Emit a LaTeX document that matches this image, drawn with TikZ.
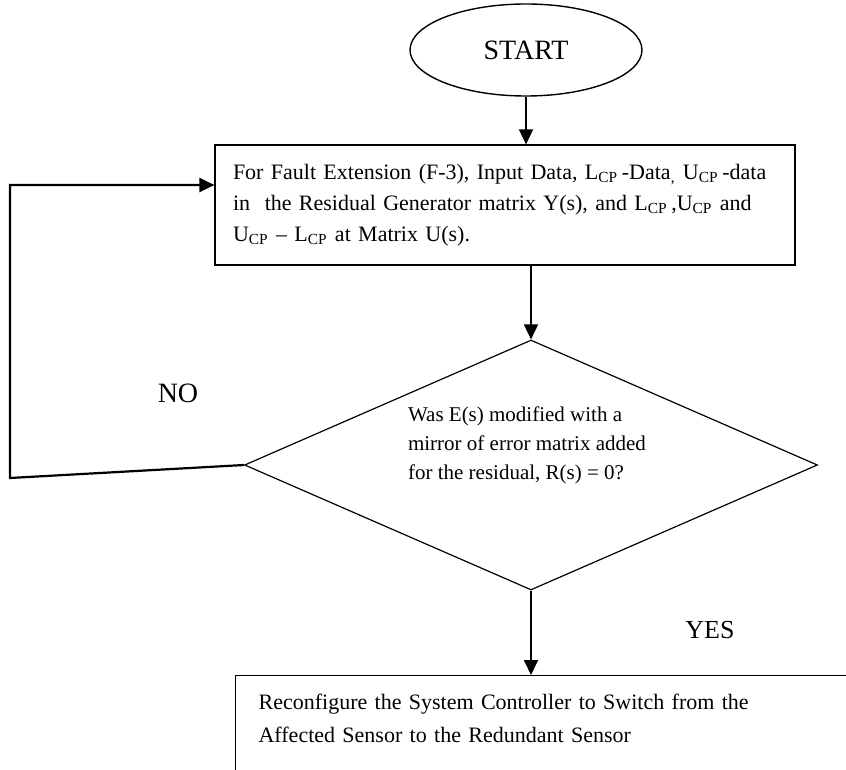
\documentclass[tikz,border=0pt]{standalone}
\usepackage{fontspec}
\setmainfont{Liberation Serif}
\usetikzlibrary{arrows.meta,positioning,calc,shapes.geometric}

\begin{document}
\begin{tikzpicture}[x=1pt,y=1pt,
   flow/.style={line width=0.9pt,-{Triangle[length=7.5pt,width=7pt]}},
   tbox/.style={draw,line width=0.6pt,inner xsep=9pt,align=left},
   bigtxt/.style={font=\fontsize{14}{16}\selectfont}]
  \clip (0,0) rectangle (423,-385);
  \node[ellipse,draw,line width=0.7pt,minimum width=116,minimum height=46,
        bigtxt] (start) at (263,-25) {START};
  \node[tbox,minimum width=290,minimum height=60,text width=272,
        font=\fontsize{11}{15.5}\selectfont] (box1) at (252.5,-102.5)
    {For Fault Extension (F-3), Input Data, L\textsubscript{CP}\,-Data\textsubscript{,} U\textsubscript{CP}\,-data\\
     in\ \ the Residual Generator matrix Y(s), and L\textsubscript{CP}\,,U\textsubscript{CP} and\\
     U\textsubscript{CP} -- L\textsubscript{CP} at Matrix U(s).};
  \node[diamond,draw,line width=0.6pt,minimum width=286.5,minimum height=125,
        inner sep=0pt] (dec) at (265.5,-232.5) {};
  \node[align=left,font=\fontsize{10.5}{14.5}\selectfont] (qtext)
    at ([xshift=-2pt,yshift=10pt]dec.center)
    {Was E(s) modified with a\\ mirror of error matrix added\\ for the residual, R(s) = 0?};
  \node[tbox,anchor=north west,inner xsep=11.5pt,inner ysep=9pt,text width=380,
        text depth=40pt,font=\fontsize{11}{16.5}\selectfont] (act) at (117.5,-337.5)
    {Reconfigure the System Controller to Switch from the\\
     Affected Sensor to the Redundant Sensor};
  \node[bigtxt] (no) at (89,-196.5) {NO};
  \node[font=\fontsize{13}{15}\selectfont] (yes) at (355,-315) {YES};
  \coordinate (lp) at (5,-239);
  \coordinate (lt) at (5,-92.5);

  \draw[flow] (start.south) -- (start.south |- box1.north);
  \draw[flow] (dec.north |- box1.south) -- (dec.north);
  \draw[flow] (dec.south) -- (dec.south |- act.north);
  \draw[flow,line width=1.1pt] (dec.west) -- (lp) -- (lt) -- (lt -| box1.west);
\end{tikzpicture}
\end{document}
